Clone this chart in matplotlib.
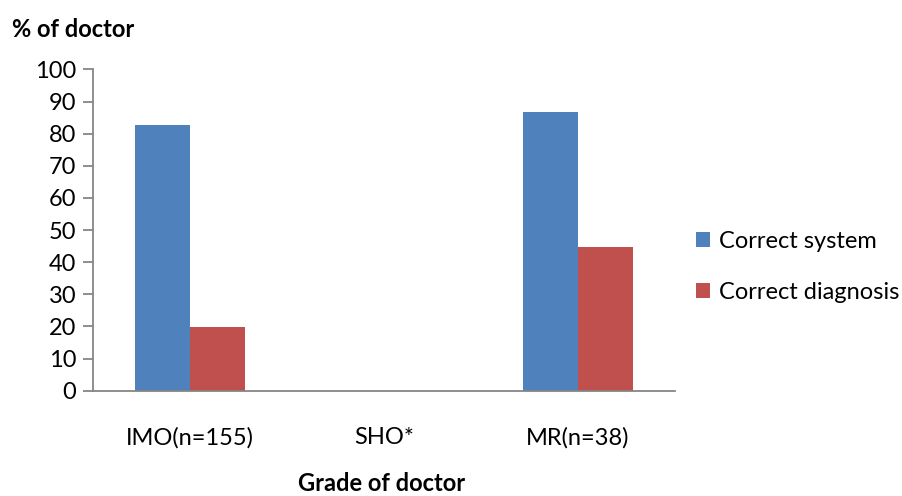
import numpy as np
import matplotlib.pyplot as plt

grades = ['IMO(n=155)', 'SHO*', 'MR(n=38)']
correct_system = [82.6, 0, 86.8]
correct_diagnosis = [19.8, 0, 44.6]

plt.rcParams['font.family'] = ['Lato', 'DejaVu Sans']

fig = plt.figure(figsize=(9.03, 4.96), dpi=100)
ax = fig.add_axes([0.103, 0.2123, 0.6445, 0.6477])

x = np.arange(len(grades))
w = 0.284
ax.bar(x - w / 2, correct_system, w, color='#4F81BD', label='Correct system')
ax.bar(x + w / 2, correct_diagnosis, w, color='#C0504D', label='Correct diagnosis')

ax.set_xlim(-0.5, 2.5)
ax.set_ylim(0, 100)
ax.set_yticks(range(0, 101, 10))
ax.set_xticks(x)
ax.set_xticklabels(grades)

for s in ['top', 'right']:
    ax.spines[s].set_visible(False)
for s in ['left', 'bottom']:
    ax.spines[s].set_color('#868686')
    ax.spines[s].set_linewidth(1.3)
ax.tick_params(axis='y', length=7, color='#868686', width=1.3, labelsize=17, pad=5)
ax.tick_params(axis='x', length=0, labelsize=17, pad=26)

fig.text(0.013, 0.94, '% of doctor', fontsize=17, fontweight='bold', va='center')
fig.text(0.423, 0.025, 'Grade of doctor', fontsize=17, fontweight='bold', ha='center', va='center')

ax.legend(loc='center left', bbox_to_anchor=(1.0, 0.385), frameon=False, fontsize=17,
          handlelength=0.6, handleheight=0.6, handletextpad=0.35, labelspacing=1.25)

fig.savefig('out.png', dpi=100)
